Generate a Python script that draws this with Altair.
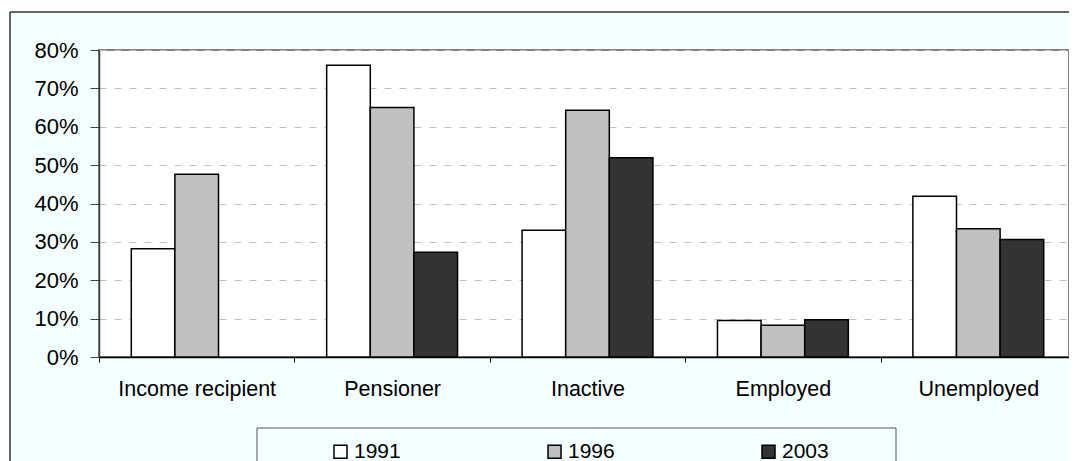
import altair as alt
import pandas as pd

categories = ["Income recipient", "Pensioner", "Inactive", "Employed", "Unemployed"]
years = ["1991", "1996", "2003"]
v1991 = [0.282, 0.760, 0.330, 0.095, 0.419]
v1996 = [0.476, 0.650, 0.643, 0.083, 0.334]
v2003 = [None, 0.273, 0.519, 0.097, 0.306]
colors = ["#FFFFFF", "#C0C0C0", "#333333"]
y_ticks = [0, 0.1, 0.2, 0.3, 0.4, 0.5, 0.6, 0.7, 0.8]

rows = []
for yr, vals in zip(years, [v1991, v1996, v2003]):
    for c, v in zip(categories, vals):
        if v is not None:
            rows.append({"category": c, "year": yr, "share": v})
df = pd.DataFrame(rows)

FONT = "Liberation Sans"
one = pd.DataFrame({"k": [0]})

# decorations (outer frame, white page strips, legend box)
strip_left = alt.Chart(one).mark_rect(fill="white").encode(
    x=alt.value(-91), x2=alt.value(-89), y=alt.value(-42), y2=alt.value(420))
strip_top = alt.Chart(one).mark_rect(fill="white").encode(
    x=alt.value(-91), x2=alt.value(990), y=alt.value(-42), y2=alt.value(-38))
frame_top = alt.Chart(one).mark_rule(color="#333333", strokeWidth=1.5).encode(
    x=alt.value(-89), x2=alt.value(990), y=alt.value(-38))
frame_left = alt.Chart(one).mark_rule(color="#333333", strokeWidth=1.5).encode(
    x=alt.value(-89), y=alt.value(-38), y2=alt.value(420))
legend_box = alt.Chart(one).mark_rect(filled=False, stroke="#555555", strokeWidth=1).encode(
    x=alt.value(158), x2=alt.value(797), y=alt.value(378), y2=alt.value(420))

bars = alt.Chart(df).mark_bar(stroke="black", strokeWidth=1.5).encode(
    x=alt.X("category:N", sort=categories,
            scale=alt.Scale(paddingInner=0, paddingOuter=0, range=[0, 977]),
            axis=alt.Axis(title=None, labelAngle=0, tickBand="extent", grid=False,
                          labelFont=FONT, labelFontSize=21.5, labelColor="black",
                          labelPadding=16, tickSize=5, tickColor="black",
                          domainColor="black", domainWidth=1.5)),
    xOffset=alt.XOffset("year:N", sort=years,
                        scale=alt.Scale(paddingOuter=0.74, paddingInner=0)),
    y=alt.Y("share:Q", scale=alt.Scale(domain=[0, 0.8], nice=False),
            axis=alt.Axis(title=None, values=y_ticks, format=".0%", grid=True,
                          gridDash=[7, 8], gridColor="#C0C0C0", gridWidth=1,
                          labelFont=FONT, labelFontSize=22, labelColor="black",
                          labelPadding=12, tickSize=9, tickColor="#404040",
                          domainColor="#404040", domainWidth=1.5)),
    fill=alt.Fill("year:N", scale=alt.Scale(domain=years, range=colors),
                  legend=alt.Legend(orient="none", legendX=231, legendY=391,
                                    direction="horizontal", title=None,
                                    symbolType="square", symbolSize=169,
                                    symbolStrokeColor="black", symbolStrokeWidth=1.5,
                                    labelFont=FONT, labelFontSize=21, labelColor="black",
                                    labelOffset=3, columnPadding=143, padding=0)),
)

chart = alt.layer(strip_left, strip_top, frame_top, frame_left, legend_box, bars).properties(
    width=970, height=307,
    padding={"left": 91, "top": 42, "right": 0, "bottom": 104},
    autosize=alt.AutoSizeParams(type="none"),
    background="#F4FFFF",
).configure_view(fill="white", stroke="#808080", strokeWidth=2)

chart.save("out.html", embed_options={"renderer": "svg", "actions": False})
